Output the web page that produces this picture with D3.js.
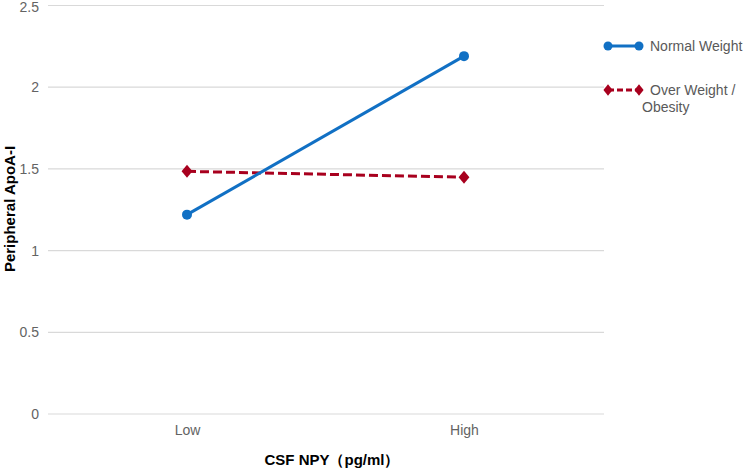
<!DOCTYPE html>
<html><head><meta charset="utf-8">
<script src="https://cdn.jsdelivr.net/npm/d3@7"></script>
<style>body{margin:0;background:#fff}svg{font-family:"Liberation Sans",Arial,sans-serif}</style>
</head><body><svg id="c" width="744" height="468"></svg>
<script>
const categories = ["Low", "High"];
const normalWeight = [1.22, 2.19];
const overWeight = [1.485, 1.449];
const yTicks = [0, 0.5, 1, 1.5, 2, 2.5];
const seriesNames = ["Normal Weight", "Over Weight / Obesity"];

const svg = d3.select("#c");
const x = d3.scalePoint().domain(categories).range([187, 464]);
const y = d3.scaleLinear().domain([0, 2.5]).range([414, 5.5]);
const gridX0 = 48, gridX1 = 604;

// gridlines
svg.append("g").selectAll("line").data(yTicks).join("line")
  .attr("x1", gridX0).attr("x2", gridX1)
  .attr("y1", d => y(d)).attr("y2", d => y(d))
  .attr("stroke", "#d9d9d9").attr("stroke-width", 1.2);

// y tick labels
const yAxis = svg.append("g").attr("transform", `translate(${gridX0},0)`)
  .call(d3.axisLeft(y).tickValues(yTicks).tickFormat(d3.format("")).tickSize(0).tickPadding(9));
yAxis.select(".domain").remove();
yAxis.selectAll("text").attr("fill", "#636363").style("font-size", "14px").style("font-family", "inherit")
  .attr("dy", d => d === 2.5 ? "0.45em" : "0.32em");

// x tick labels
const xAxis = svg.append("g").attr("transform", `translate(0,${y(0)})`)
  .call(d3.axisBottom(x).tickSize(0).tickPadding(11));
xAxis.select(".domain").remove();
xAxis.selectAll("text").attr("fill", "#636363").style("font-size", "14px").style("font-family", "inherit");

// axis titles
svg.append("text").attr("x", 332).attr("y", 465).attr("text-anchor", "middle")
  .style("font-size", "15px").style("font-weight", "bold").attr("fill", "#000")
  .text("CSF NPY（pg/ml）");
svg.append("text").attr("transform", "translate(15,209) rotate(-90)").attr("text-anchor", "middle")
  .style("font-size", "15px").style("font-weight", "bold").attr("fill", "#000")
  .text("Peripheral ApoA-I");

const blue = "#1170C4", red = "#A8001E";
const line = d3.line().x((d, i) => x(categories[i])).y(d => y(d));

// over weight series
svg.append("path").datum(overWeight).attr("d", line).attr("fill", "none")
  .attr("stroke", red).attr("stroke-width", 3).attr("stroke-dasharray", "9,4");
const diamond = d3.symbol().type(d3.symbolDiamond).size(60);
svg.append("g").selectAll("path").data(overWeight).join("path")
  .attr("d", diamond).attr("fill", red)
  .attr("transform", (d, i) => `translate(${x(categories[i])},${y(d)}) scale(1.3,0.9)`);

// normal weight series
svg.append("path").datum(normalWeight).attr("d", line).attr("fill", "none")
  .attr("stroke", blue).attr("stroke-width", 3);
svg.append("g").selectAll("circle").data(normalWeight).join("circle")
  .attr("cx", (d, i) => x(categories[i])).attr("cy", d => y(d)).attr("r", 5).attr("fill", blue);

// legend
const lg = svg.append("g");
lg.append("line").attr("x1", 608).attr("x2", 639).attr("y1", 46).attr("y2", 46)
  .attr("stroke", blue).attr("stroke-width", 3);
[608, 639].forEach(cx => lg.append("circle").attr("cx", cx).attr("cy", 46).attr("r", 4.5).attr("fill", blue));
lg.append("text").attr("x", 650).attr("y", 51).style("font-size", "14px").attr("fill", "#595959").text(seriesNames[0]);

lg.append("line").attr("x1", 608).attr("x2", 639).attr("y1", 90).attr("y2", 90)
  .attr("stroke", red).attr("stroke-width", 3).attr("stroke-dasharray", "6,3");
[608, 639].forEach(cx => lg.append("path").attr("d", diamond)
  .attr("transform", `translate(${cx},90) scale(1.1,0.8)`).attr("fill", red));
const t2 = lg.append("text").attr("x", 650).attr("y", 95).style("font-size", "14px").attr("fill", "#595959");
t2.append("tspan").attr("x", 650).text("Over Weight /");
t2.append("tspan").attr("x", 642).attr("dy", 17).text("Obesity");
</script></body></html>
